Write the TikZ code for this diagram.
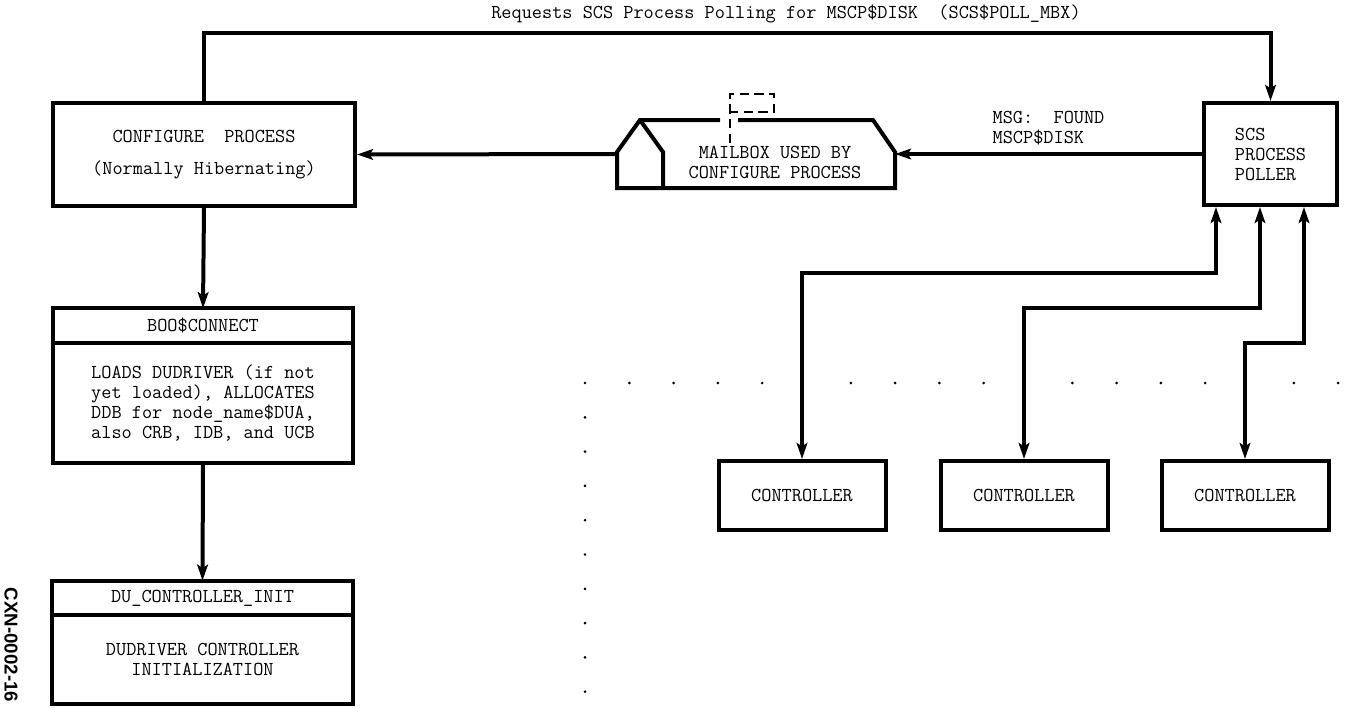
\documentclass[tikz,border=0pt]{standalone}
\usepackage{fontspec}
\newfontfamily\tagfont{Liberation Sans}
\usetikzlibrary{arrows.meta,positioning}
\begin{document}
\begin{tikzpicture}
[
 x=0.75pt, y=-0.75pt,
 line width=3pt,
 >={Stealth[length=12pt,width=8pt,inset=2.5pt]},
 font=\ttfamily\fontsize{14.8pt}{15pt}\selectfont,
 align=center,
 box/.style={draw=black,rectangle,inner sep=0pt},
 proc/.style={box,minimum width=226.5pt,minimum height=77.25pt},
 poll/.style={box,minimum width=99.75pt,minimum height=76.5pt,align=left},
 head/.style={box,outer sep=0pt,minimum width=225.5pt,minimum height=26pt},
 body/.style={box,outer sep=0pt,minimum width=225.5pt,anchor=north},
 ctrl/.style={box,minimum width=125.25pt,minimum height=51.75pt},
 dot/.style={fill=black,draw=none},
 flag/.style={line width=1pt,dash pattern=on 7pt off 4pt}
]
\useasboundingbox (0,0) rectangle (1345,707);
\node (configure) [proc] at (204,154.5) {CONFIGURE~~PROCESS\\[9pt](Normally Hibernating)};
\node (poller) [poll] at (1270.5,154) {SCS\\PROCESS\\POLLER};
\node (boo) [head] at (203,325.5) {BOO\$CONNECT};
\node (boo-body) [body,minimum height=90pt,align=left] at (boo.south) {LOADS DUDRIVER (if not\\yet loaded), ALLOCATES\\DDB for node\_name\$DUA,\\also CRB, IDB, and UCB};
\node (du-init) [head] at (202.5,598) {DU\_CONTROLLER\_INIT};
\node (du-body) [body,minimum height=66.75pt] at (du-init.south) {DUDRIVER CONTROLLER\\INITIALIZATION};
\node (ctrl-a) [ctrl] at (802,495.5) {CONTROLLER};
\node (ctrl-b) [ctrl] at (1024,495.5) {CONTROLLER};
\node (ctrl-c) [ctrl] at (1245,495.5) {CONTROLLER};
\node (poll-req) at (786,14) {Requests SCS Process Polling for MSCP\$DISK~~(SCS\$POLL\_MBX)};
\coordinate (mailbox-w) at (617,154);
\coordinate (mailbox-e) at (895,154);
\node (mailbox) at (775,162) {MAILBOX USED BY\\CONFIGURE PROCESS};
\draw (720,120) -- (640,120) -- (617,152) -- (mailbox-w) -- (617,188) -- (895,188) -- (mailbox-e) -- (895,152) -- (873,120) -- (738,120);
\draw (640,120) -- (663,152) -- (663,188);
\draw[flag] (730,143) -- (730,94) -- (774,94) -- (774,112) -- (730,112);
\draw[->] (configure.north) -- ++(0,-68) -| (poller.north);
\draw[->] (poller.west) -- node[above=2pt,align=left] (msg-found) {MSG:~~FOUND\\MSCP\$DISK} (mailbox-e);
\draw[->] (mailbox-w) -- (configure.east);
\draw[->] (configure.south) -- (boo.north);
\draw[->] (boo-body.south) -- (du-init.north);
\draw[<->] ([xshift=-40.9pt]poller.south) -- ++(0,66) -| (ctrl-a.north);
\draw[<->] ([xshift=-7.9pt]poller.south) -- ++(0,101) -| (ctrl-b.north);
\draw[<->] ([xshift=25.1pt]poller.south) -- ++(0,136) -| (ctrl-c.north);
\foreach \k in {0,1,2,3,4,6,7,8,9,11,12,13,14,16,17}
  \fill[dot] (585+44.3*\k,383) circle (1.1pt);
\foreach \k in {1,...,9}
  \fill[dot] (585,383+34.3*\k) circle (1.1pt);
\node (fig-tag) [rotate=-90,font=\tagfont\bfseries\fontsize{14pt}{14pt}\selectfont] at (11,645) {CXN-0002-16};
\end{tikzpicture}
\end{document}
